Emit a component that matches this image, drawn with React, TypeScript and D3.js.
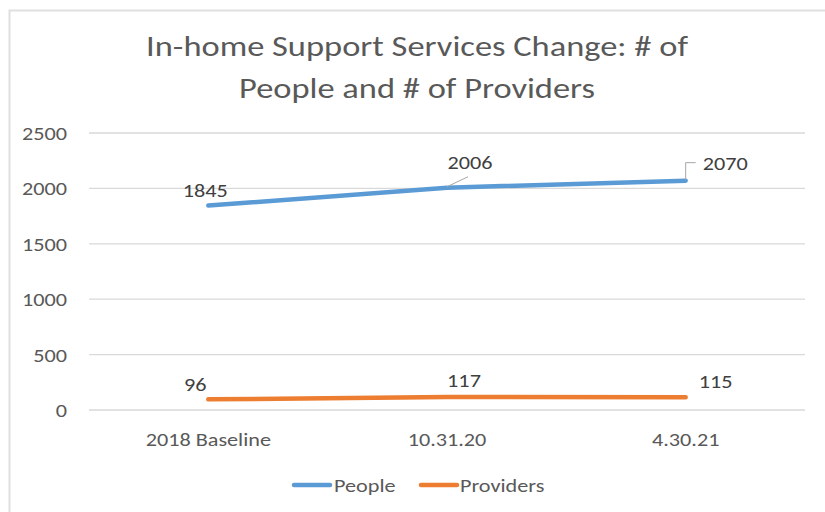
import React from "react";
import * as d3 from "d3";

const categories = ["2018 Baseline", "10.31.20", "4.30.21"];
const people = [1845, 2006, 2070];
const providers = [96, 117, 115];
const yTicks = [0, 500, 1000, 1500, 2000, 2500];
const seriesNames = ["People", "Providers"];
const titleLines = ["In-home Support Services Change: # of", "People and # of Providers"];

const W = 825, H = 512;
const FONT = "Carlito, Calibri, 'DejaVu Sans Condensed', 'Liberation Sans', sans-serif";

function T({ x, y, s, size, anchor = "start", fill = "#595959", sx = 1.17 }: any) {
  return (
    <g transform={`translate(${x},${y}) scale(${sx},1)`}>
      <text x={0} y={0} textAnchor={anchor} fontFamily={FONT} fontSize={size} fill={fill}>{s}</text>
    </g>
  );
}

export default function App() {
  const x = d3.scaleBand<string>().domain(categories).range([89, 805]);
  const y = d3.scaleLinear().domain([0, 2500]).range([410, 133]);
  const cx = (c: string) => (x(c) as number) + x.bandwidth() / 2;
  const line = d3.line<number>().x((_, i) => cx(categories[i])).y((v) => y(v));
  const blue = "#5B9BD5", orange = "#ED7D31", grid = "#D9D9D9", lbl = "#404040";

  const pp = people.map((v, i) => [cx(categories[i]), y(v)]);
  const pr = providers.map((v, i) => [cx(categories[i]), y(v)]);

  return (
    <svg width={W} height={H} style={{ position: "absolute", left: 0, top: 0, background: "#fff" }}>
      <rect x={9.5} y={10.5} width={W + 20} height={H + 20} fill="#fff" stroke="#E0E0E0" strokeWidth={2} />
      {titleLines.map((t, i) => (
        <T key={i} x={417} y={56 + i * 42} s={t} size={28} anchor="middle" sx={1.23} />
      ))}
      {yTicks.map((t) => (
        <g key={t}>
          <line x1={89} x2={805} y1={y(t)} y2={y(t)} stroke={grid} strokeWidth={1.3} />
          <T x={67} y={y(t) + 7} s={String(t)} size={19} anchor="end" />
        </g>
      ))}
      {categories.map((c) => (
        <T key={c} x={cx(c)} y={446} s={c} size={19} anchor="middle" />
      ))}
      <path d={line(people) || ""} fill="none" stroke={blue} strokeWidth={4.5} strokeLinecap="round" />
      <path d={line(providers) || ""} fill="none" stroke={orange} strokeWidth={4.5} strokeLinecap="round" />
      {/* leader lines */}
      <line x1={pp[1][0]} y1={pp[1][1] - 1} x2={pp[1][0] + 21} y2={pp[1][1] - 11} stroke="#A6A6A6" strokeWidth={1} />
      <polyline points={`${pp[2][0]},${pp[2][1] - 1} ${pp[2][0]},${pp[2][1] - 18} ${pp[2][0] + 10},${pp[2][1] - 18}`} fill="none" stroke="#A6A6A6" strokeWidth={1} />
      {/* data labels */}
      <T x={pp[0][0] - 3} y={pp[0][1] - 9} s={String(people[0])} size={19} anchor="middle" fill={lbl} />
      <T x={pp[1][0] + 23} y={pp[1][1] - 19} s={String(people[1])} size={19} anchor="middle" fill={lbl} />
      <T x={pp[2][0] + 17} y={pp[2][1] - 11} s={String(people[2])} size={19} anchor="start" fill={lbl} />
      <T x={pr[0][0] - 13} y={pr[0][1] - 8} s={String(providers[0])} size={19} anchor="middle" fill={lbl} />
      <T x={pr[1][0] + 17} y={pr[1][1] - 10} s={String(providers[1])} size={19} anchor="middle" fill={lbl} />
      <T x={pr[2][0] + 30} y={pr[2][1] - 9} s={String(providers[2])} size={19} anchor="middle" fill={lbl} />
      {/* legend */}
      <line x1={294} x2={330} y1={485} y2={485} stroke={blue} strokeWidth={4.5} strokeLinecap="round" />
      <T x={334} y={492} s={seriesNames[0]} size={19} />
      <line x1={421} x2={457} y1={485} y2={485} stroke={orange} strokeWidth={4.5} strokeLinecap="round" />
      <T x={460} y={492} s={seriesNames[1]} size={19} />
    </svg>
  );
}
